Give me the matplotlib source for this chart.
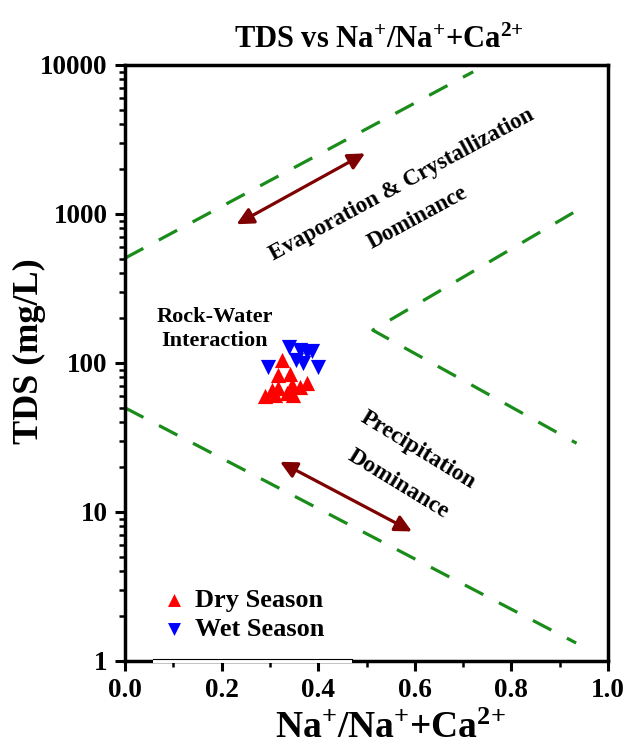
import matplotlib
matplotlib.use("Agg")
import matplotlib.pyplot as plt
from matplotlib.patches import Rectangle
from matplotlib.ticker import FixedLocator, LogLocator, NullFormatter

plt.rcParams['font.family'] = ['Liberation Serif', 'DejaVu Serif']
plt.rcParams['font.weight'] = 'bold'
plt.rcParams['mathtext.fontset'] = 'custom'
plt.rcParams['mathtext.rm'] = 'Liberation Serif:bold'
plt.rcParams['mathtext.bf'] = 'Liberation Serif:bold'
plt.rcParams['mathtext.it'] = 'Liberation Serif:italic:bold'

# 数据
dry_x = [0.290, 0.304, 0.311, 0.317, 0.317, 0.326, 0.335, 0.342, 0.345, 0.348, 0.362, 0.376]
dry_tds = [60, 66, 61, 67.5, 83, 105, 62.7, 84, 71, 61, 69, 73.5]
wet_x = [0.297, 0.340, 0.354, 0.362, 0.369, 0.376, 0.387, 0.400]
wet_tds = [93.5, 127, 104, 122, 99.5, 119, 120, 93.5]

# 边界线
upper_x = [0.0, 0.721]
upper_tds = [505, 9000]
mid_x = [0.928, 0.513, 0.935]
mid_tds = [1020, 166, 28.9]
lower_x = [0.0, 0.934]
lower_tds = [50, 1.32]

# 箭头
evap_arrow = [(0.231, 853), (0.497, 2550)]
prec_arrow = [(0.321, 21.7), (0.594, 7.4)]

fig = plt.figure(figsize=(6.25, 7.56), dpi=100)
ax = fig.add_axes([0.2, 0.1257, 0.7728, 0.7884])

dash = dict(color='#1a8c1a', lw=2.3, linestyle=(0, (6.5, 5.5)), zorder=1)
ax.plot(upper_x, upper_tds, **dash)
ax.plot(mid_x, mid_tds, **dash)
ax.plot(lower_x, lower_tds, **dash)

arrowprops = dict(arrowstyle='<|-|>', color='#7f0000', lw=2.3, mutation_scale=25, shrinkA=0, shrinkB=0)
ax.annotate('', xy=evap_arrow[1], xytext=evap_arrow[0], arrowprops=arrowprops)
ax.annotate('', xy=prec_arrow[1], xytext=prec_arrow[0], arrowprops=arrowprops)

ax.scatter(dry_x, dry_tds, marker='^', s=120, color='#ff0000', label='Dry Season', zorder=3, linewidths=0)
ax.scatter(wet_x, wet_tds, marker='v', s=120, color='#0000ff', label='Wet Season', zorder=3, linewidths=0)

ax.text(0.573, 1567, 'Evaporation & Crystallization', rotation=28.5, ha='center', va='center', fontsize=16.5, fontweight='bold')
ax.text(0.606, 948, 'Dominance', rotation=28.5, ha='center', va='center', fontsize=16.5, fontweight='bold')
ax.text(0.186, 169, 'Rock-Water\nInteraction', ha='center', va='center', fontsize=16, fontweight='bold', linespacing=1.25)
ax.text(0.607, 26.1, 'Precipitation', rotation=-31.4, ha='center', va='center', fontsize=17, fontweight='bold')
ax.text(0.566, 15.4, 'Dominance', rotation=-31.4, ha='center', va='center', fontsize=17, fontweight='bold')

ax.set_yscale('log')
ax.set_xlim(0, 1.0)
ax.set_ylim(1, 10000)
ax.set_xticks([0.0, 0.2, 0.4, 0.6, 0.8, 1.0])
ax.set_xticklabels(['0.0', '0.2', '0.4', '0.6', '0.8', '1.0'])
ax.xaxis.set_minor_locator(FixedLocator([0.1, 0.3, 0.5, 0.7, 0.9]))
ax.set_yticks([1, 10, 100, 1000, 10000])
ax.set_yticklabels(['1', '10', '100', '1000', '10000'])
ax.yaxis.set_minor_locator(LogLocator(base=10, subs=range(2, 10)))
ax.yaxis.set_minor_formatter(NullFormatter())

ax.tick_params(axis='both', which='major', direction='out', length=7.5, width=2.2, labelsize=19.5, pad=5)
ax.tick_params(axis='both', which='minor', direction='out', length=4, width=1.8)
for lab in ax.get_xticklabels() + ax.get_yticklabels():
    lab.set_fontweight('bold')
for sp in ax.spines.values():
    sp.set_linewidth(2.5)

ax.set_title(r'TDS vs Na$^{+}$/Na$^{+}$+Ca$^{2{+}}$', fontsize=22, fontweight='bold', pad=12, x=0.525)
ax.set_xlabel(r'Na$^{+}$/Na$^{+}$+Ca$^{2{+}}$', fontsize=27, fontweight='bold')
ax.xaxis.label.set_va('center')
ax.xaxis.set_label_coords(0.549, -0.113)
ax.set_ylabel('TDS (mg/L)', fontsize=26, fontweight='bold')
ax.yaxis.label.set_va('center')
ax.yaxis.set_label_coords(-0.197, 0.52)

leg = ax.legend(loc='lower left', bbox_to_anchor=(0.058, 0.02), borderaxespad=0, fontsize=19, frameon=True,
                fancybox=False, edgecolor='none', facecolor='white', framealpha=1,
                handletextpad=0.3, borderpad=0.3, labelspacing=0.2, handlelength=1.0,
                markerscale=0.85)
for t in leg.get_texts():
    t.set_fontweight('bold')

# 图例白框盖住部分底边
ax.add_patch(Rectangle((0.058, -0.0035), 0.412, 0.0075, transform=ax.transAxes,
                       facecolor='white', edgecolor='none', zorder=4, clip_on=False))
ax.plot([0.058, 0.47], [0.004, 0.004], transform=ax.transAxes, color='black', lw=0.8,
        zorder=4.1, clip_on=False)

fig.savefig('out.png', dpi=100)
